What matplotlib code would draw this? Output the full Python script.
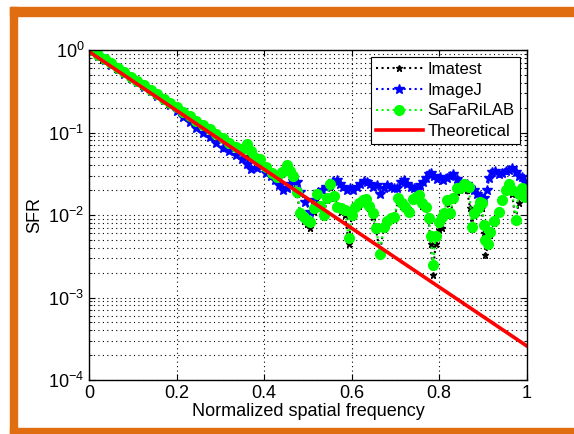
import matplotlib
matplotlib.use('Agg')
import matplotlib.pyplot as plt
import matplotlib.ticker as mticker
from matplotlib.patches import Rectangle


# Theoretical SFR (straight line on the log axis)
theo_f = [0.0, 1.0]
theo_sfr = [0.95, 2.6e-4]

# SaFaRiLAB
safari_f = [0.005, 0.02, 0.035, 0.05, 0.065, 0.08, 0.095, 0.11, 0.125, 0.14,
            0.155, 0.17, 0.185, 0.2, 0.215, 0.23, 0.245, 0.26, 0.275, 0.29,
            0.305, 0.32, 0.335, 0.35, 0.36, 0.37,
            0.376, 0.391, 0.405, 0.418, 0.429, 0.440, 0.452, 0.459, 0.467, 0.475,
            0.483, 0.490, 0.498, 0.505, 0.513, 0.520, 0.528, 0.536, 0.543, 0.551,
            0.559, 0.566, 0.575, 0.585, 0.593, 0.600, 0.608, 0.616, 0.625, 0.632,
            0.640, 0.648, 0.656, 0.665, 0.673, 0.682, 0.690, 0.698, 0.706, 0.715,
            0.723, 0.731, 0.740, 0.748, 0.755, 0.762, 0.769, 0.776, 0.781, 0.786,
            0.792, 0.799, 0.806, 0.812, 0.818, 0.825, 0.833, 0.840, 0.848, 0.856,
            0.862, 0.869, 0.875, 0.881, 0.888, 0.894, 0.898, 0.903, 0.906, 0.912,
            0.917, 0.925, 0.936, 0.944, 0.952, 0.960, 0.967, 0.975, 0.982, 0.990,
            0.997]
safari_sfr = [1.0, 0.88, 0.776, 0.687, 0.608, 0.537, 0.475, 0.42, 0.372, 0.329,
              0.29, 0.257, 0.227, 0.201, 0.178, 0.157, 0.139, 0.123, 0.109, 0.0962,
              0.085, 0.0752, 0.0664, 0.063, 0.072, 0.060,
              0.051, 0.048, 0.038, 0.032, 0.029, 0.033, 0.040, 0.034, 0.030, 0.019,
              0.0105, 0.0095, 0.0088, 0.0083, 0.012, 0.018, 0.013, 0.010, 0.016, 0.024,
              0.017, 0.0126, 0.012, 0.0115, 0.0052, 0.010, 0.0126, 0.014, 0.015, 0.0155,
              0.013, 0.0105, 0.007, 0.0034, 0.0072, 0.0085, 0.0092, 0.0095, 0.016, 0.014,
              0.0125, 0.011, 0.0155, 0.0165, 0.0175, 0.014, 0.0126, 0.0093, 0.0055, 0.0025,
              0.0055, 0.0083, 0.0095, 0.0105, 0.0152, 0.0105, 0.016, 0.021, 0.021, 0.024,
              0.023, 0.022, 0.0072, 0.0105, 0.012, 0.0145, 0.014, 0.0075, 0.005, 0.0045,
              0.0063, 0.0085, 0.011, 0.015, 0.020, 0.024, 0.020, 0.0087, 0.018, 0.021,
              0.0167]

# ImageJ
imagej_f = [0.005, 0.02, 0.035, 0.05, 0.065, 0.08, 0.095, 0.11, 0.125, 0.14,
            0.155, 0.17, 0.185, 0.2, 0.215, 0.23, 0.245, 0.26, 0.275, 0.29,
            0.305, 0.32, 0.335, 0.35, 0.36, 0.37,
            0.383, 0.395, 0.405, 0.415, 0.425, 0.435, 0.444, 0.452, 0.460, 0.467,
            0.475, 0.483, 0.494, 0.505, 0.514, 0.524, 0.533, 0.542, 0.550, 0.558,
            0.566, 0.573, 0.581, 0.589, 0.597, 0.604, 0.612, 0.620, 0.628, 0.635,
            0.643, 0.650, 0.658, 0.665, 0.673, 0.681, 0.689, 0.697, 0.704, 0.712,
            0.719, 0.727, 0.735, 0.742, 0.750, 0.757, 0.764, 0.770, 0.776, 0.782,
            0.788, 0.795, 0.802, 0.810, 0.818, 0.826, 0.833, 0.841, 0.848, 0.856,
            0.864, 0.871, 0.879, 0.886, 0.894, 0.902, 0.909, 0.915, 0.921, 0.929,
            0.936, 0.944, 0.952, 0.960, 0.967, 0.975, 0.982, 0.990, 0.997]
imagej_sfr = [0.96, 0.85, 0.75, 0.665, 0.588, 0.518, 0.458, 0.405, 0.358, 0.316,
              0.279, 0.247, 0.216, 0.182, 0.155, 0.133, 0.114, 0.0986, 0.0873, 0.0755,
              0.0652, 0.059, 0.0533, 0.0483, 0.0415, 0.0366,
              0.037, 0.040, 0.032, 0.030, 0.0265, 0.023, 0.020, 0.021, 0.024, 0.026,
              0.025, 0.019, 0.0145, 0.011, 0.015, 0.019, 0.020, 0.022, 0.023, 0.026,
              0.0265, 0.024, 0.022, 0.020, 0.021, 0.020, 0.022, 0.024, 0.026, 0.025,
              0.024, 0.022, 0.023, 0.018, 0.021, 0.023, 0.022, 0.021, 0.021, 0.025,
              0.0265, 0.024, 0.022, 0.021, 0.020, 0.023, 0.025, 0.028, 0.031, 0.032,
              0.030, 0.027, 0.029, 0.0265, 0.028, 0.030, 0.031, 0.027, 0.025, 0.022,
              0.024, 0.021, 0.020, 0.018, 0.017, 0.016, 0.020, 0.028, 0.0335, 0.034,
              0.031, 0.032, 0.034, 0.035, 0.037, 0.033, 0.030, 0.029, 0.025]

# Imatest
imatest_f = [0.005, 0.03, 0.06, 0.09, 0.12, 0.15, 0.18, 0.21, 0.24, 0.27,
             0.30, 0.33, 0.36,
             0.376, 0.391, 0.405, 0.418, 0.429, 0.440, 0.452, 0.459, 0.467, 0.475,
             0.483, 0.490, 0.498, 0.505, 0.513, 0.520, 0.528, 0.536, 0.543, 0.551,
             0.559, 0.566, 0.575, 0.585, 0.593, 0.600, 0.608, 0.616, 0.625, 0.632,
             0.640, 0.648, 0.656, 0.665, 0.673, 0.682, 0.690, 0.698, 0.706, 0.715,
             0.723, 0.731, 0.740, 0.748, 0.755, 0.762, 0.769, 0.776, 0.781, 0.786,
             0.792, 0.799, 0.806, 0.812, 0.818, 0.825, 0.833, 0.840, 0.848, 0.856,
             0.864, 0.871, 0.875, 0.879, 0.886, 0.894, 0.898, 0.903, 0.906, 0.912,
             0.917, 0.925, 0.936, 0.944, 0.952, 0.960, 0.967, 0.975, 0.982, 0.990,
             0.997]
imatest_sfr = [0.95, 0.76, 0.595, 0.465, 0.365, 0.285, 0.222, 0.174, 0.136, 0.106,
               0.083, 0.065, 0.051,
               0.048, 0.046, 0.037, 0.031, 0.028, 0.031, 0.037, 0.032, 0.028, 0.018,
               0.010, 0.0085, 0.0078, 0.0070, 0.011, 0.017, 0.012, 0.0095, 0.015, 0.022,
               0.016, 0.012, 0.011, 0.010, 0.0045, 0.0095, 0.012, 0.013, 0.014, 0.0145,
               0.012, 0.0095, 0.0065, 0.0035, 0.0068, 0.008, 0.0088, 0.009, 0.015, 0.013,
               0.012, 0.0105, 0.015, 0.0155, 0.016, 0.013, 0.012, 0.0088, 0.0045, 0.0019,
               0.0045, 0.0065, 0.0069, 0.0095, 0.014, 0.010, 0.015, 0.019, 0.020, 0.022,
               0.020, 0.012, 0.0068, 0.010, 0.011, 0.013, 0.012, 0.006, 0.0033, 0.0042,
               0.0058, 0.008, 0.0105, 0.015, 0.020, 0.022, 0.018, 0.0085, 0.014, 0.019,
               0.016]

xtick_vals = [0, 0.2, 0.4, 0.6, 0.8, 1.0]
xtick_labels = ['0', '0.2', '0.4', '0.6', '0.8', '1']


plt.rcParams['font.family'] = ['Liberation Sans', 'DejaVu Sans']
plt.rcParams['mathtext.default'] = 'regular'

fig = plt.figure(figsize=(5.74, 4.34), dpi=100)

# orange frame around the figure (top, left, bottom)
W, H = 574.0, 434.0
orange = '#E06E10'
for (x0, y0, w, h) in [(10, 7, 564, 9), (10, 7, 7, 427), (10, 428, 564, 6)]:
    fig.patches.append(Rectangle((x0 / W, 1 - (y0 + h) / H), w / W, h / H,
                                 transform=fig.transFigure, color=orange,
                                 zorder=0))

ax = fig.add_axes([89.3 / W, 1 - 380 / H, (526.5 - 89.3) / W, 330 / H])

ax.semilogy(imatest_f, imatest_sfr, ':', color='k', marker='*',
            markersize=5, linewidth=1.5, label='Imatest')
ax.semilogy(imagej_f, imagej_sfr, ':', color='#0000FF', marker='*',
            markersize=7, linewidth=1.5, label='ImageJ')
ax.semilogy(safari_f, safari_sfr, ':', color='#00FF00', marker='o',
            markersize=7, linewidth=1.5, label='SaFaRiLAB')
ax.semilogy(theo_f, theo_sfr, '-', color='#FF0000', linewidth=2.6,
            label='Theoretical')

ax.set_xlim(0, 1)
ax.set_ylim(1e-4, 1)
ax.set_xticks(xtick_vals)
ax.set_xticklabels(xtick_labels)
ax.yaxis.set_major_locator(mticker.LogLocator(base=10, numticks=10))
ax.yaxis.set_minor_locator(mticker.LogLocator(base=10, subs=range(2, 10),
                                              numticks=20))
ax.yaxis.set_minor_formatter(mticker.NullFormatter())

grid_style = dict(color='k', linestyle=(0, (1, 3)), linewidth=0.8)
ax.grid(True, which='both', axis='y', **grid_style)
ax.grid(True, which='major', axis='x', **grid_style)

ax.tick_params(which='both', direction='in', top=True, right=True,
               labelsize=13)
ax.tick_params(which='major', length=4)
ax.tick_params(which='minor', length=2)
for s in ax.spines.values():
    s.set_linewidth(1.0)

ax.set_xlabel('Normalized spatial frequency', fontsize=13, labelpad=1)
ax.set_ylabel('SFR', fontsize=13, labelpad=4)

leg = ax.legend(loc='upper right', fontsize=12, fancybox=False,
                edgecolor='k', framealpha=1, handlelength=2.8,
                handletextpad=0.3, borderpad=0.3, labelspacing=0.35,
                borderaxespad=0.4)
leg.get_frame().set_linewidth(0.8)

fig.savefig('out.png', dpi=100)
